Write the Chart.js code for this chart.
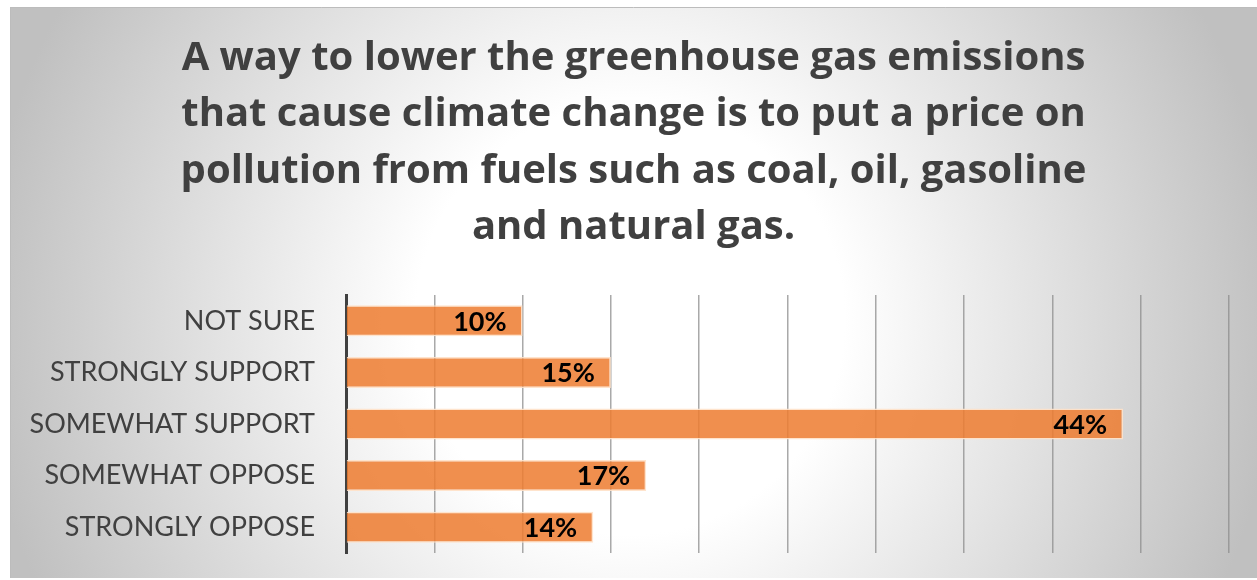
<!DOCTYPE html>
<html>
<head>
<meta charset="utf-8">
<script src="https://cdn.jsdelivr.net/npm/chart.js@4/dist/chart.umd.min.js"></script>
<style>
  html, body { margin: 0; padding: 0; background: #fff; }
  #wrap { width: 1257px; height: 580px; position: relative; }
</style>
</head>
<body>
<div id="wrap"><canvas id="c" width="1257" height="580"></canvas></div>
<script>
const categories = ['NOT SURE', 'STRONGLY SUPPORT', 'SOMEWHAT SUPPORT', 'SOMEWHAT OPPOSE', 'STRONGLY OPPOSE'];
const shares = [10, 15, 44, 17, 14];
const titleLines = [
  'A way to lower the greenhouse gas emissions',
  'that cause climate change is to put a price on',
  'pollution from fuels such as coal, oil, gasoline',
  'and natural gas.'
];
const axisMax = 50;
const axisStep = 5;

const FRAME = { x: 10, y: 7 };

// Panel background: soft radial sheen, grey toward the edges
const panelBackground = {
  id: 'panelBackground',
  beforeDraw(chart) {
    const ctx = chart.ctx;
    const w = chart.width, h = chart.height;
    ctx.save();
    ctx.fillStyle = '#ffffff';
    ctx.fillRect(0, 0, w, h);
    const cx = 630, cy = 320;
    const g = ctx.createRadialGradient(cx, cy, 0, cx, cy, 650);
    g.addColorStop(0, '#ffffff');
    g.addColorStop(0.33, '#ffffff');
    g.addColorStop(1, '#c0c0c0');
    ctx.fillStyle = g;
    ctx.fillRect(FRAME.x, FRAME.y, w - FRAME.x, h - FRAME.y - 2);
    ctx.strokeStyle = '#bcbcbc';
    ctx.lineWidth = 1;
    ctx.beginPath();
    ctx.moveTo(FRAME.x, FRAME.y + 0.5);
    ctx.lineTo(w, FRAME.y + 0.5);
    ctx.moveTo(FRAME.x + 0.5, FRAME.y);
    ctx.lineTo(FRAME.x + 0.5, h - 2);
    ctx.stroke();
    ctx.restore();
  }
};

// Center the title across the whole panel rather than the padded area
const titleAcrossPanel = {
  id: 'titleAcrossPanel',
  afterLayout(chart) {
    const t = chart.titleBlock;
    if (t) {
      t.left = FRAME.x;
      t.right = chart.width;
      t.width = t.right - t.left;
    }
  }
};

// Percentage labels inside the end of each bar
const barValueLabels = {
  id: 'barValueLabels',
  afterDatasetsDraw(chart) {
    const ctx = chart.ctx;
    const meta = chart.getDatasetMeta(0);
    ctx.save();
    ctx.font = 'bold 27px Lato, "Open Sans", sans-serif';
    ctx.fillStyle = '#000000';
    ctx.textAlign = 'right';
    ctx.textBaseline = 'middle';
    meta.data.forEach((bar, i) => {
      const v = chart.data.datasets[0].data[i];
      ctx.fillText(v + '%', bar.x - 16, bar.y + 1);
    });
    ctx.restore();
  }
};

new Chart(document.getElementById('c'), {
  type: 'bar',
  data: {
    labels: categories,
    datasets: [{
      data: shares,
      backgroundColor: 'rgba(237,125,49,0.86)',
      borderColor: 'rgba(255,225,200,0.9)',
      borderWidth: 1.5,
      categoryPercentage: 0.8,
      barPercentage: 0.75
    }]
  },
  options: {
    indexAxis: 'y',
    responsive: false,
    animation: false,
    layout: { autoPadding: false, padding: { left: FRAME.x, right: 28, top: 0, bottom: 27 } },
    plugins: {
      legend: { display: false },
      tooltip: { enabled: false },
      title: {
        display: true,
        text: titleLines,
        color: '#404040',
        font: { family: '"Open Sans", Lato, sans-serif', size: 40, weight: 'bold', lineHeight: 1.4125 },
        padding: { top: 30, bottom: 39 }
      }
    },
    scales: {
      x: {
        min: 0,
        max: axisMax,
        ticks: { display: false, stepSize: axisStep },
        grid: { color: 'rgba(140,140,140,0.75)', lineWidth: 1.5, drawTicks: false },
        border: { display: false },
        afterFit(scale) { scale.height = 0; }
      },
      y: {
        ticks: {
          color: '#404040',
          padding: 31,
          font: { family: 'Lato, "Open Sans", sans-serif', size: 27 }
        },
        grid: { display: false, drawTicks: false },
        border: { display: true, color: '#404040', width: 3 },
        afterFit(scale) {
          scale.width = 346 - FRAME.x;
          scale.paddingTop = 0;
          scale.paddingBottom = 0;
        }
      }
    }
  },
  plugins: [panelBackground, titleAcrossPanel, barValueLabels]
});
</script>
</body>
</html>
